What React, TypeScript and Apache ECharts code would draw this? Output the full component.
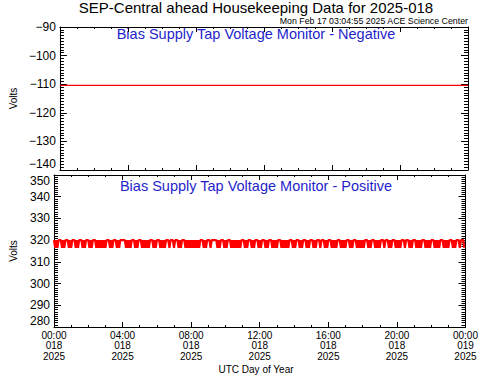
import React, { useEffect, useRef } from "react";
import * as echarts from "echarts";

const chartTitle = "SEP-Central ahead Housekeeping Data for 2025-018";
const stampText = "Mon Feb 17 03:04:55 2025 ACE Science Center";
const panelTitles = ["Bias Supply Tap Voltage Monitor - Negative", "Bias Supply Tap Voltage Monitor - Positive"];
const xAxisTitle = "UTC Day of Year";
const yAxisTitle = "Volts";
const xTickLabels = [
  "00:00\n018\n2025",
  "04:00\n018\n2025",
  "08:00\n018\n2025",
  "12:00\n018\n2025",
  "16:00\n018\n2025",
  "20:00\n018\n2025",
  "00:00\n019\n2025",
];

// Negative tap voltage, hourly samples (hours 0..24)
const negativeValues = [
  -110.4, -110.4, -110.4, -110.4, -110.4, -110.4, -110.4, -110.4, -110.4, -110.4, -110.4, -110.4, -110.4,
  -110.4, -110.4, -110.4, -110.4, -110.4, -110.4, -110.4, -110.4, -110.4, -110.4, -110.4, -110.4,
];

// Positive tap voltage, 4-minute samples
const positiveValues = [
  320,316.5,320,316.5,320,320,320,316.5,320,316.5,320,320,320,316.5,320,316.5,320,320,320,316.5,
  320,316.5,320,320,320,316.5,320,316.5,320,320,320,316.5,320,316.5,320,320,320,316.5,320,316.5,
  320,316.5,320,316.5,320,316.5,320,320,320,316.5,320,316.5,320,320,320,316.5,320,316.5,320,320,
  320,320,320,316.5,320,316.5,320,316.5,320,320,320,316.5,320,316.5,320,320,320,316.5,320,316.5,
  320,316.5,320,316.5,320,320,320,316.5,320,316.5,320,320,320,316.5,320,316.5,320,316.5,320,320,
  320,316.5,320,320,320,316.5,320,320,320,316.5,320,316.5,320,320,320,316.5,320,316.5,320,316.5,
  320,316.5,320,316.5,320,316.5,320,316.5,320,320,320,316.5,320,316.5,320,320,320,316.5,320,320,
  320,320,320,316.5,320,316.5,320,320,320,316.5,320,316.5,320,320,320,316.5,320,316.5,320,316.5,
  320,316.5,320,316.5,320,320,320,316.5,320,316.5,320,320,320,316.5,320,316.5,320,320,320,316.5,
  320,316.5,320,320,320,316.5,320,316.5,320,320,320,316.5,320,316.5,320,316.5,320,320,320,316.5,
  320,316.5,320,316.5,320,316.5,320,320,320,316.5,320,316.5,320,320,320,316.5,320,316.5,320,320,
  320,316.5,320,316.5,320,320,320,316.5,320,316.5,320,320,320,316.5,320,320,320,316.5,320,316.5,
  320,320,320,316.5,320,316.5,320,316.5,320,320,320,316.5,320,316.5,320,316.5,320,320,320,316.5,
  320,316.5,320,320,320,316.5,320,316.5,320,316.5,320,316.5,320,320,320,316.5,320,316.5,320,320,
  320,316.5,320,316.5,320,316.5,320,320,320,316.5,320,320,320,316.5,320,316.5,320,320,320,316.5,
  320,316.5,320,316.5,320,320,320,316.5,320,320,320,316.5,320,316.5,320,320,320,316.5,320,316.5,
  320,316.5,320,320,320,316.5,320,316.5,320,316.5,320,320,320,316.5,320,316.5,320,316.5,320,320,
  320,316.5,320,316.5,320,316.5,320,320,320,316.5,320,316.5,320,320,320,316.5,320,320,320,316.5,
];

const FONT = "'Liberation Sans', Arial, Helvetica, sans-serif";

export default function App() {
  const ref = useRef<HTMLDivElement>(null);
  useEffect(() => {
    document.body.style.margin = "0";
    const chart = echarts.init(ref.current!, null, { renderer: "svg" });

    const negData = negativeValues.map((v, i) => [(i * 24) / (negativeValues.length - 1), v]);
    const posData = positiveValues.map((v, i) => [(i * 24) / positiveValues.length, v]);

    const plotLeft = 44;
    const plotRight = 13;
    const grids = [
      { left: plotLeft, right: plotRight, top: 27, height: 143 },
      { left: plotLeft, right: plotRight, top: 175, height: 152 },
    ];

    const axisLine = { show: true, onZero: false, lineStyle: { color: "#000", width: 1 } };

    const makeX = (gridIndex: number, position: "top" | "bottom", labels: boolean) => ({
      type: "value",
      gridIndex,
      position,
      min: 0,
      max: 24,
      interval: 4,
      axisLine,
      axisTick: { show: true, inside: true, length: 5, lineStyle: { color: "#000" } },
      minorTick: { show: true, splitNumber: 4, length: 2, lineStyle: { color: "#000" } },
      splitLine: { show: false },
      minorSplitLine: { show: false },
      axisLabel: labels
        ? {
            show: true,
            margin: 3,
            fontFamily: FONT,
            fontSize: 10,
            lineHeight: 10.5,
            color: "#000",
            formatter: (v: number) => xTickLabels[Math.round(v / 4)] ?? "",
          }
        : { show: false },
    });

    const makeY = (
      gridIndex: number,
      position: "left" | "right",
      min: number,
      max: number,
      labels: boolean,
      edge: Record<string, string> = {}
    ) => ({
      type: "value",
      gridIndex,
      position,
      min,
      max,
      interval: 10,
      axisLine,
      axisTick: { show: true, inside: true, length: 7, lineStyle: { color: "#000" } },
      minorTick: { show: true, splitNumber: 10, length: 4, lineStyle: { color: "#000" } },
      splitLine: { show: false },
      minorSplitLine: { show: false },
      name: labels ? yAxisTitle : "",
      nameLocation: "middle",
      nameGap: 36,
      nameRotate: 90,
      nameTextStyle: { fontFamily: FONT, fontSize: 10, color: "#000" },
      axisLabel: labels
        ? {
            show: true,
            margin: 4,
            fontFamily: FONT,
            fontSize: 12,
            color: "#000",
            ...edge,
            formatter: (v: number) => String(v).replace("-", "\u2212"),
          }
        : { show: false },
    });

    chart.setOption({
      animation: false,
      backgroundColor: "#fff",
      grid: grids,
      xAxis: [makeX(0, "bottom", false), makeX(0, "top", false), makeX(1, "bottom", true), makeX(1, "top", false)],
      yAxis: [
        makeY(0, "left", -140, -90, true, { verticalAlignMinLabel: "bottom" }),
        makeY(0, "right", -140, -90, false),
        makeY(1, "left", 280, 350, true, { verticalAlignMaxLabel: "top", verticalAlignMinLabel: "bottom" }),
        makeY(1, "right", 280, 350, false),
      ],
      series: [
        {
          type: "line",
          xAxisIndex: 0,
          yAxisIndex: 0,
          data: negData,
          showSymbol: false,
          symbol: "none",
          lineStyle: { color: "#ff0000", width: 1.2 },
          silent: true,
        },
        {
          type: "line",
          xAxisIndex: 2,
          yAxisIndex: 2,
          data: posData,
          showSymbol: false,
          symbol: "none",
          lineStyle: { color: "#ff0000", width: 2.2 },
          silent: true,
        },
      ],
      graphic: [
        {
          type: "text",
          x: 256,
          y: 7.5,
          style: { text: chartTitle, fontFamily: FONT, fontSize: 15, fill: "#000", align: "center", verticalAlign: "middle" },
        },
        {
          type: "text",
          x: 468,
          y: 20.5,
          style: { text: stampText, fontFamily: FONT, fontSize: 8.8, fill: "#000", align: "right", verticalAlign: "middle" },
        },
        {
          type: "text",
          x: 256,
          y: 34,
          style: { text: panelTitles[0], fontFamily: FONT, fontSize: 14.5, fill: "#1f1fcc", align: "center", verticalAlign: "middle" },
        },
        {
          type: "text",
          x: 256,
          y: 186,
          style: { text: panelTitles[1], fontFamily: FONT, fontSize: 14.5, fill: "#1f1fcc", align: "center", verticalAlign: "middle" },
        },
        {
          type: "text",
          x: 256,
          y: 369,
          style: { text: xAxisTitle, fontFamily: FONT, fontSize: 10, fill: "#000", align: "center", verticalAlign: "middle" },
        },
      ],
    });
    return () => chart.dispose();
  }, []);
  return <div ref={ref} style={{ width: 481, height: 377 }} />;
}
